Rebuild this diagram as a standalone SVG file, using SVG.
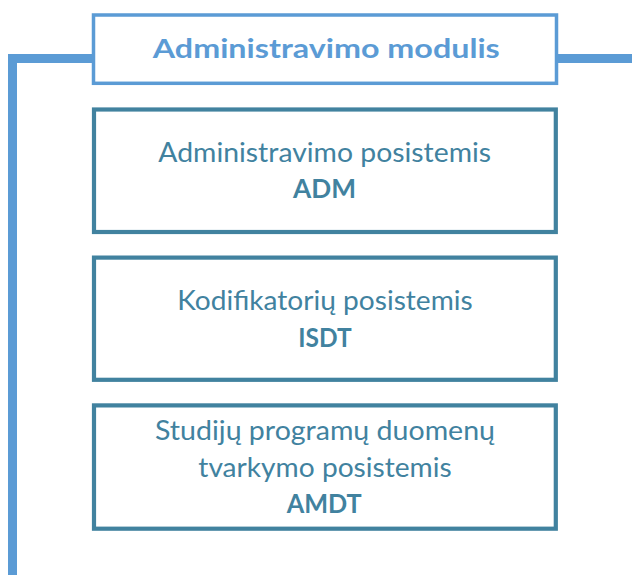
<svg xmlns="http://www.w3.org/2000/svg" width="632" height="575" viewBox="0 0 632 575">
  <style>
    .conn { fill: none; stroke: #5B9BD5; stroke-width: 9; stroke-linejoin: miter; }
    .top { fill: #FFFFFF; stroke: #5B9BD5; stroke-width: 3.5; }
    .sub { fill: #FFFFFF; stroke: #41829F; stroke-width: 4.2; }
    .tt { font-family: Lato, "Open Sans", "Liberation Sans", sans-serif; font-weight: bold; font-size: 27px; fill: #5B9BD5; text-anchor: middle; }
    .lbl { font-family: Lato, "Open Sans", "Liberation Sans", sans-serif; font-size: 27px; fill: #41829F; text-anchor: middle; }
    .code { font-family: Lato, "Open Sans", "Liberation Sans", sans-serif; font-size: 27px; font-weight: bold; fill: #41829F; text-anchor: middle; }
  </style>
  <rect width="632" height="575" fill="#FFFFFF"/>
  <g id="connectors">
    <polyline class="conn" points="12.5,575 12.5,58.6 94,58.6"/>
    <line class="conn" x1="556" y1="58.6" x2="632" y2="58.6"/>
  </g>
  <g id="node-modulis">
    <rect class="top" x="93.5" y="15" width="463" height="68.3"/>
    <text class="tt" x="326.3" y="58.3" textLength="347" lengthAdjust="spacingAndGlyphs">Administravimo modulis</text>
  </g>
  <g id="node-adm">
    <rect class="sub" x="94" y="109.5" width="461.8" height="122.5"/>
    <text class="lbl" x="324.7" y="162.2" textLength="332.7" lengthAdjust="spacingAndGlyphs">Administravimo posistemis</text>
    <text class="code" x="324.5" y="198.3" textLength="63" lengthAdjust="spacingAndGlyphs">ADM</text>
  </g>
  <g id="node-isdt">
    <rect class="sub" x="94" y="257.6" width="461.8" height="122.2"/>
    <text class="lbl" x="325" y="310.3" textLength="295.4" lengthAdjust="spacingAndGlyphs">Kodifikatorių posistemis</text>
    <text class="code" x="325" y="346.5" textLength="53.4" lengthAdjust="spacingAndGlyphs">ISDT</text>
  </g>
  <g id="node-amdt">
    <rect class="sub" x="94" y="405.4" width="461.8" height="123.3"/>
    <text class="lbl" x="325" y="440" textLength="340" lengthAdjust="spacingAndGlyphs">Studijų programų duomenų</text>
    <text class="lbl" x="325" y="476.8" textLength="253.4" lengthAdjust="spacingAndGlyphs">tvarkymo posistemis</text>
    <text class="code" x="324.2" y="512.5" textLength="75" lengthAdjust="spacingAndGlyphs">AMDT</text>
  </g>
</svg>
